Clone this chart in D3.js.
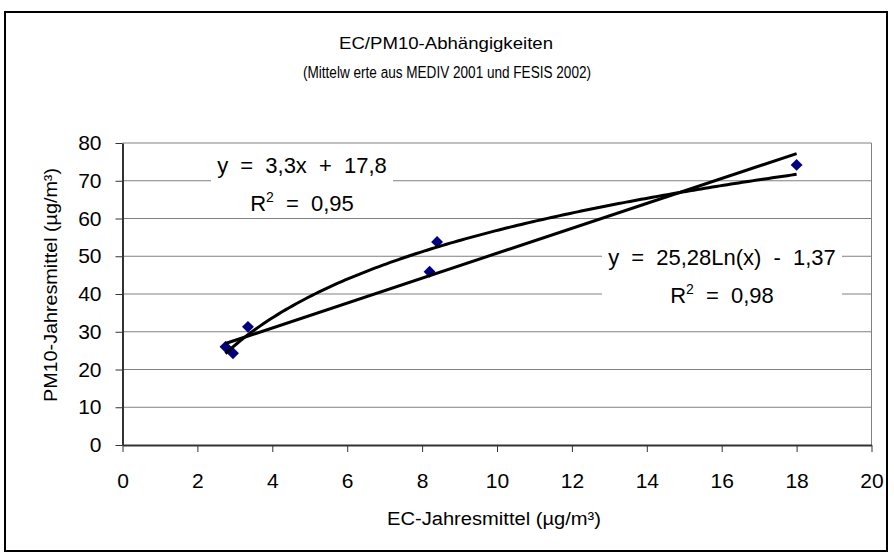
<!DOCTYPE html>
<html>
<head>
<meta charset="utf-8">
<script src="https://cdn.jsdelivr.net/npm/d3@7"></script>
<style>
  body { margin: 0; background: #fff; }
  text { font-family: "Liberation Sans", Arial, sans-serif; fill: #000; }
</style>
</head>
<body>
<div id="chart"></div>
<script>
// values
var ecValues = [2.75, 2.95, 3.35, 8.2, 8.4, 18.0];
var pmValues = [26.0, 24.3, 31.3, 45.9, 53.8, 74.2];
var xTicks = [0, 2, 4, 6, 8, 10, 12, 14, 16, 18, 20];
var yTicks = [0, 10, 20, 30, 40, 50, 60, 70, 80];
// trendline coefficients as printed in the chart
var linCoef = [3.3, 17.8];      // y = a*x + b
var logCoef = [25.28, -1.37];   // y = a*ln(x) + b
var eqLin = ["y = 3,3x + 17,8", "0,95"];
var eqLog = ["y = 25,28Ln(x) - 1,37", "0,98"];

var W = 894, H = 559;
var margin = {top: 143, right: 22.5, bottom: 114, left: 122.5};
var width = W - margin.left - margin.right,
    height = H - margin.top - margin.bottom;

var svg = d3.select("#chart").append("svg")
    .attr("width", W)
    .attr("height", H);

// outer chart border
svg.append("rect")
    .attr("x", 5).attr("y", 12)
    .attr("width", 882).attr("height", 539)
    .attr("fill", "#fff")
    .attr("stroke", "#000")
    .attr("stroke-width", 2);

// titles (the original font is narrow, so the width is fixed)
svg.append("text")
    .attr("x", 446).attr("y", 49)
    .attr("text-anchor", "middle")
    .attr("textLength", 214)
    .attr("lengthAdjust", "spacingAndGlyphs")
    .style("font-size", "17px")
    .text("EC/PM10-Abhängigkeiten");
svg.append("text")
    .attr("x", 447).attr("y", 78)
    .attr("text-anchor", "middle")
    .attr("textLength", 288)
    .attr("lengthAdjust", "spacingAndGlyphs")
    .style("font-size", "16px")
    .text("(Mittelw erte aus MEDIV 2001 und FESIS 2002)");

var g = svg.append("g")
    .attr("transform", "translate(" + margin.left + "," + margin.top + ")");

var x = d3.scaleLinear().domain([0, 20]).range([0, width]);
var y = d3.scaleLinear().domain([0, 80]).range([height, 0]);

// gridlines
g.append("g").selectAll("line")
    .data(yTicks.filter(function(d) { return d > 0; }))
    .enter().append("line")
    .attr("x1", 0).attr("x2", width)
    .attr("y1", function(d) { return y(d); })
    .attr("y2", function(d) { return y(d); })
    .attr("stroke", "#808080")
    .attr("stroke-width", 1);

// right edge of plot area
g.append("line")
    .attr("x1", width).attr("x2", width)
    .attr("y1", 0).attr("y2", height)
    .attr("stroke", "#808080");

// axes
var xAxis = g.append("g")
    .attr("transform", "translate(0," + height + ")")
    .call(d3.axisBottom(x).tickValues(xTicks).tickSize(7).tickPadding(21).tickSizeOuter(0));
var yAxis = g.append("g")
    .call(d3.axisLeft(y).tickValues(yTicks).tickSize(7).tickPadding(14).tickSizeOuter(0));
[xAxis, yAxis].forEach(function(a) {
    a.select(".domain").attr("stroke", "#333").attr("stroke-width", 2);
    a.selectAll(".tick line").attr("stroke", "#333");
    a.selectAll(".tick text")
        .style("font-family", "'Liberation Sans', Arial, sans-serif")
        .style("font-size", "21px")
        .attr("fill", "#000");
});

// axis titles
svg.append("text")
    .attr("x", 494).attr("y", 525)
    .attr("text-anchor", "middle")
    .attr("textLength", 214)
    .attr("lengthAdjust", "spacingAndGlyphs")
    .style("font-size", "18px")
    .text("EC-Jahresmittel (µg/m³)");
svg.append("text")
    .attr("transform", "translate(57,285) rotate(-90)")
    .attr("text-anchor", "middle")
    .attr("textLength", 234)
    .attr("lengthAdjust", "spacingAndGlyphs")
    .style("font-size", "18px")
    .text("PM10-Jahresmittel (µg/m³)");

// equation labels (white boxes hide the gridlines behind them)
function eqLabel(lines, cx, top, bw, bh) {
    var lg = svg.append("g");
    lg.append("rect")
        .attr("x", cx - bw / 2).attr("y", top)
        .attr("width", bw).attr("height", bh)
        .attr("fill", "#fff");
    lg.append("text")
        .attr("x", cx).attr("y", top + 27)
        .attr("text-anchor", "middle")
        .style("font-size", "22px")
        .style("word-spacing", "6px")
        .text(lines[0]);
    var t = lg.append("text")
        .attr("x", cx).attr("y", top + 65)
        .attr("text-anchor", "middle")
        .style("font-size", "22px")
        .style("word-spacing", "6px");
    t.append("tspan").text("R");
    t.append("tspan").attr("dy", -9).style("font-size", "14px").text("2");
    t.append("tspan").attr("dy", 9).text(" = " + lines[1]);
}
eqLabel(eqLin, 302, 146, 182, 70);
eqLabel(eqLog, 722, 238, 240, 73);

// data points
var pts = ecValues.map(function(d, i) { return [d, pmValues[i]]; });
g.append("g").selectAll("path")
    .data(pts)
    .enter().append("path")
    .attr("d", d3.symbol().type(d3.symbolDiamond2).size(90))
    .attr("transform", function(d) { return "translate(" + x(d[0]) + "," + y(d[1]) + ")"; })
    .attr("fill", "#000080");

// trendlines over the fitted range
var xMin = d3.min(ecValues), xMax = d3.max(ecValues);
var trendX = d3.range(xMin, xMax, 0.1).concat([xMax]);

g.append("path")
    .datum([xMin, xMax])
    .attr("d", d3.line()
        .x(function(d) { return x(d); })
        .y(function(d) { return y(linCoef[0] * d + linCoef[1]); }))
    .attr("fill", "none")
    .attr("stroke", "#000")
    .attr("stroke-width", 3);

g.append("path")
    .datum(trendX)
    .attr("d", d3.line()
        .x(function(d) { return x(d); })
        .y(function(d) { return y(logCoef[0] * Math.log(d) + logCoef[1]); }))
    .attr("fill", "none")
    .attr("stroke", "#000")
    .attr("stroke-width", 3);
</script>
</body>
</html>
